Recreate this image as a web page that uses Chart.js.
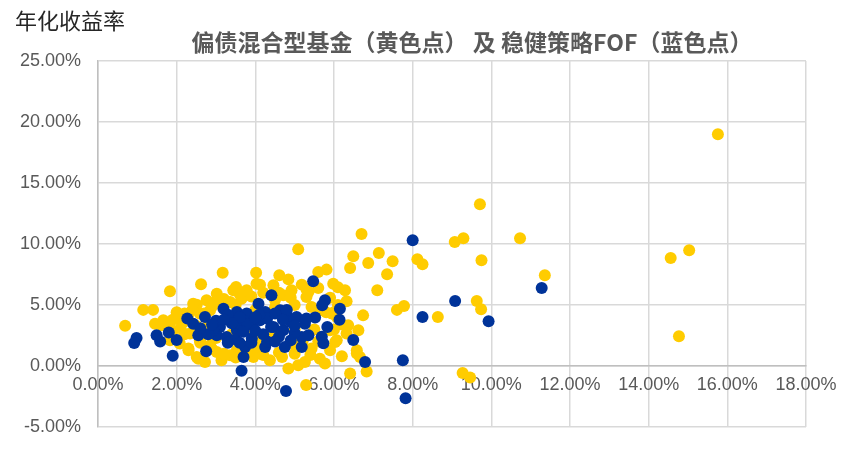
<!DOCTYPE html>
<html>
<head>
<meta charset="utf-8">
<script src="https://cdn.jsdelivr.net/npm/chart.js"></script>
<style>
html, body { margin: 0; padding: 0; background: #fff; }
</style>
</head>
<body>
<canvas id="chart" width="860" height="450"></canvas>
<script>
const chartTitle = "偏债混合型基金（黄色点） 及 稳健策略FOF（蓝色点）";
const yTitle = "年化收益率";
const xTicks = [0, 2, 4, 6, 8, 10, 12, 14, 16, 18];
const yTicks = [-5, 0, 5, 10, 15, 20, 25];

// 偏债混合型基金 (yellow), annualised volatility % / return %
const fundX = [15.76, 14.56, 15.03, 14.77, 9.71, 9.07, 9.29, 10.73, 9.75, 11.36, 8.12, 8.25, 7.49, 7.35, 7.14,
    7.6, 7.78, 8.64, 9.63, 9.74, 9.27, 9.46, 7.1, 6.7, 6.49, 6.41, 6.87, 5.6, 5.81, 5.98, 6.1, 6.28, 6.32,
    6.74, 5.35, 5.09, 6.36, 6.62, 6.07, 6.58, 6.66, 5.64, 5.77, 6.41, 6.83, 5.26, 5.94, 5.29, 4.84, 4.37,
    2.72, 0.69, 1.15, 1.4, 1.62, 2.3, 2.55, 1.83, 2.62, 2.51, 3.17, 4.02, 4.61, 4.84, 4.12, 5.18, 3.51,
    4.92, 4.46, 3.78, 4.71, 5.3, 5.43, 5.64, 6.07, 5.9, 6.03, 6.32, 5.09, 4.68, 3.95, 3.78, 4.12, 4.97,
    5.43, 6.58, 1.45, 1.66, 2.42, 2.76, 3.02, 3.44, 4.03, 2.17, 1.83, 2.08, 2.3, 2.51, 3.14, 3.36, 3.95,
    2.97, 3.36, 3.65, 2.59, 2.85, 2.34, 2.85, 2.59, 3.36, 4.03, 3.02, 3.53, 4.03,
    4.5, 4.9, 5.0, 4.6, 5.3, 5.6, 5.9, 6.1, 6.0, 4.2, 3.9, 3.6, 3.2, 2.9, 2.7, 2.4, 2.2, 2.0, 1.8, 1.9,
    2.2, 2.6, 2.9, 3.2, 3.5, 3.8, 4.2, 4.6, 5.0, 5.4, 5.2, 5.5, 5.0, 4.4, 3.9, 3.4, 3.0, 2.8, 4.5, 4.0,
    3.5, 5.8, 6.2, 6.0, 5.6, 5.9, 6.2, 2.0, 2.3, 1.9, 2.5, 2.1];
const fundY = [19.0, 8.85, 9.48, 2.43, 13.25, 10.16, 10.47, 10.47, 8.66, 7.43, 8.75, 8.34, 8.58, 7.52, 9.26,
    4.6, 4.92, 4.02, 5.33, 4.65, -0.57, -0.95, 6.2, 10.82, 8.99, 8.03, 8.44, 7.7, 7.9, 6.75, 6.45, 6.2, 5.3,
    4.15, 6.07, 9.56, 3.34, 2.93, 2.11, 1.29, 0.74, 0.6, 0.2, -0.62, -0.45, 0.33, 4.3, -1.55, -0.21, 0.47,
    0.33, 3.3, 4.6, 4.6, 3.34, 1.29, 0.6, 6.12, 6.7, 5.03, 7.65, 7.65, 7.43, 7.1, 6.67, 6.67, 6.48,
    6.2, 6.61, 6.2, 5.8, 5.66, 4.84, 4.57, 4.02, 2.93, 1.97, 2.66, 0.06, 0.74, 0.88, 1.56, 1.84, 1.84,
    1.43, 1.02, 3.47, 3.75, 5.11, 5.39, 5.93, 6.2, 6.75, 3.6, 2.11, 1.84, 1.43, 0.74, 0.47, 0.88, 0.74,
    5.25, 5.25, 5.52, 4.3, 4.57, 2.66, 1.7, 2.11, 2.11, 2.66, 1.15, 1.29, 1.56,
    5.4, 5.6, 5.0, 6.0, 6.3, 6.4, 5.6, 5.0, 4.4, 6.0, 5.7, 5.9, 5.5, 4.9, 4.3, 4.6, 4.3, 3.9, 3.4, 2.9,
    2.6, 1.9, 1.4, 1.0, 0.7, 1.0, 0.9, 1.1, 1.0, 0.9, 2.0, 3.0, 3.0, 2.4, 3.0, 2.6, 2.3, 3.3, 4.8, 4.6,
    5.0, 4.4, 3.4, 3.0, 2.0, 1.3, 0.8, 4.4, 4.2, 3.8, 3.3, 3.1];

// 稳健策略FOF (blue)
const fofX = [0.98, 0.92, 1.49, 1.58, 1.8, 2.0, 1.9, 2.27, 2.42, 2.55, 2.72, 2.75, 3.1, 3.02, 3.19, 3.36,
    3.53, 3.53, 3.74, 3.7, 3.65, 3.78, 3.95, 3.91, 4.08, 3.27, 2.93, 3.61, 5.47, 5.77, 5.7, 6.15, 6.14,
    5.52, 5.83, 5.69, 5.73, 6.49, 6.79, 4.41, 4.25, 4.63, 4.8, 5.05, 5.26, 5.18, 5.35, 5.18, 4.75, 4.25,
    3.69, 4.46, 4.71, 4.12, 4.78, 8.0, 9.08, 8.25, 9.93, 11.28, 7.75, 7.82,
    3.3, 3.8, 4.3, 4.5, 4.9, 4.0, 3.5, 3.0, 2.8, 3.3, 4.6, 5.0, 5.3, 4.8, 4.4, 3.6, 4.1, 2.6, 3.9, 4.3, 4.9,
    3.4, 3.7, 4.2, 4.0, 3.2, 2.9, 4.7, 5.0, 4.5, 3.6];
const fofY = [2.3, 1.89, 2.52, 2.0, 2.75, 2.13, 0.84, 3.9, 3.47, 2.52, 4.02, 1.2, 3.2, 2.52, 4.7, 3.89,
    4.43, 2.93, 1.56, 0.74, -0.38, 4.3, 3.6, 2.25, 5.11, 2.38, 2.93, 3.47, 6.95, 5.39, 4.97, 4.7, 3.8,
    3.97, 3.2, 2.4, 1.86, 2.13, 0.33, 5.8, 4.43, 4.57, 4.16, 4.02, 3.47, 2.38, 2.52, 1.56, 1.56, 1.56,
    3.75, 3.2, 2.93, 3.75, -2.05, 10.3, 5.33, 4.02, 3.66, 6.39, 0.47, -2.65,
    4.2, 3.4, 3.9, 4.3, 3.6, 2.9, 2.2, 3.7, 2.6, 1.9, 2.4, 2.7, 3.9, 4.6, 3.2, 4.0, 4.2, 3.1, 1.9, 2.0, 2.1,
    3.5, 2.8, 2.6, 4.0, 3.8, 3.4, 3.8, 3.3, 2.0, 1.9];

const toPoints = (xs, ys) => xs.map((x, i) => ({x: x, y: ys[i]}));

const textPlugin = {
    id: 'texts',
    afterDraw(chart) {
        const ctx = chart.ctx;
        ctx.save();
        ctx.textBaseline = 'middle';
        ctx.fillStyle = '#262626';
        ctx.font = '22px "Noto Sans CJK SC"';
        ctx.textAlign = 'left';
        ctx.fillText(yTitle, 15, 21);
        ctx.fillStyle = '#595959';
        ctx.font = 'bold 23px "Noto Sans CJK SC"';
        ctx.textAlign = 'center';
        ctx.fillText(chartTitle, 472, 42);
        ctx.restore();
    }
};

const tickFont = {family: 'Liberation Sans', size: 18};
const fmt = v => v.toFixed(2) + '%';

new Chart(document.getElementById('chart'), {
    type: 'scatter',
    data: {
        datasets: [
            {
                label: '稳健策略FOF',
                data: toPoints(fofX, fofY),
                backgroundColor: '#003399',
                borderColor: '#003399',
                borderWidth: 0,
                pointRadius: 6,
                pointHoverRadius: 6
            },
            {
                label: '偏债混合型基金',
                data: toPoints(fundX, fundY),
                backgroundColor: '#FFCC00',
                borderColor: '#FFCC00',
                borderWidth: 0,
                pointRadius: 6,
                pointHoverRadius: 6
            }
        ]
    },
    options: {
        responsive: false,
        animation: false,
        layout: {padding: {left: 0, top: 61, right: 54, bottom: 23}},
        plugins: {legend: {display: false}, tooltip: {enabled: false}},
        scales: {
            x: {
                type: 'linear',
                min: 0,
                max: 18,
                position: {y: 0},
                afterBuildTicks: s => { s.ticks = xTicks.map(v => ({value: v})); },
                afterFit: s => { s.height = 0; },
                ticks: {callback: fmt, color: '#595959', font: tickFont, padding: 8, maxRotation: 0, autoSkip: false},
                grid: {color: '#d9d9d9', lineWidth: 1.5, drawTicks: false},
                border: {color: '#bfbfbf', width: 1.5}
            },
            y: {
                type: 'linear',
                min: -5,
                max: 25,
                afterBuildTicks: s => { s.ticks = yTicks.map(v => ({value: v})); },
                afterFit: s => { s.width = 98; },
                ticks: {callback: fmt, color: '#595959', font: tickFont, padding: 3},
                grid: {color: '#d9d9d9', lineWidth: 1.5, drawTicks: true, tickLength: 14, tickColor: 'rgba(0,0,0,0)'},
                border: {color: '#bfbfbf', width: 1.5}
            }
        }
    },
    plugins: [textPlugin]
});
</script>
</body>
</html>
